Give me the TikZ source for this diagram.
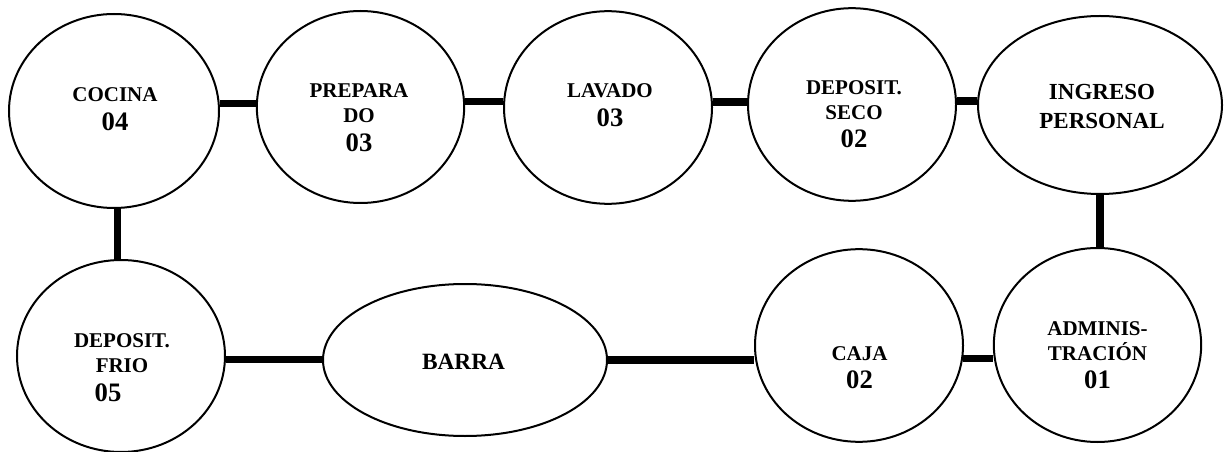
\documentclass[tikz,border=0pt]{standalone}
\usepackage{fontspec}
\setmainfont{Liberation Serif}
\usetikzlibrary{shapes.geometric}

\newcommand{\cifra}{\fontsize{20}{24}\selectfont}

\begin{document}
\begin{tikzpicture}[x=0.75pt, y=-0.75pt,
    zona/.style={ellipse, draw, line width=1.5pt, inner sep=0pt},
    rotulo/.style={align=center, inner sep=0pt,
        font=\fontsize{15.75}{18.75}\selectfont\bfseries},
    enlace/.style={line width=5.5pt}]
    \useasboundingbox (0,0) rectangle (1227,452);

    % zonas
    \node[zona, minimum width=157.5pt, minimum height=145.5pt] (cocina)    at (114,111)    {};
    \node[zona, minimum width=155.5pt, minimum height=144pt]   (preparado) at (360.5,107)  {};
    \node[zona, minimum width=156pt,   minimum height=144.5pt] (lavado)    at (608,107.5)  {};
    \node[zona, minimum width=156pt,   minimum height=144.5pt] (seco)      at (852,104.5)  {};
    \node[zona, minimum width=183pt,   minimum height=133.5pt] (ingreso)   at (1100,105)   {};
    \node[zona, minimum width=156pt,   minimum height=144pt]   (frio)      at (121,356)    {};
    \node[zona, minimum width=213pt,   minimum height=114pt]   (barra)     at (465,360)    {};
    \node[zona, minimum width=156pt,   minimum height=144.5pt] (caja)      at (859,345.5)  {};
    \node[zona, minimum width=155.5pt, minimum height=145.5pt] (admin)     at (1097.5,345) {};

    % rotulos
    \node[rotulo] (cocina-t)    at (115,109)    {COCINA\\[2.6pt]\cifra 04};
    \node[rotulo] (preparado-t) at (359,117.5)  {PREPARA\\DO\\[2.6pt]\cifra 03};
    \node[rotulo] (lavado-t)    at (610,105)    {LAVADO\\[2.6pt]\cifra 03};
    \node[rotulo] (seco-t)      at (854,114)    {DEPOSIT.\\SECO\\[2.6pt]\cifra 02};
    \node[rotulo, font=\fontsize{17.25}{21.75}\selectfont\bfseries]
                  (ingreso-t)   at (1102,106.5) {INGRESO\\PERSONAL};
    \node[rotulo] (frio-t)      at (122,367.5)  {DEPOSIT.\\FRIO\\[2.6pt]\cifra 05\kern21pt\null};
    \node[rotulo, font=\fontsize{17.5}{21}\selectfont\bfseries]
                  (barra-t)     at (463.5,362)  {BARRA};
    \node[rotulo] (caja-t)      at (859.5,367.5) {CAJA\\[2.6pt]\cifra 02};
    \node[rotulo] (admin-t)     at (1097.5,355) {ADMINIS-\\TRACIÓN\\[2.6pt]\cifra 01};

    % enlaces
    \draw[enlace] (cocina.4) -- (cocina.4 -| preparado.west);
    \draw[enlace] (preparado.3) -- (preparado.3 -| lavado.west);
    \draw[enlace] (lavado.3) -- (lavado.3 -| seco.west);
    \draw[enlace] (seco.2) -- (seco.2 -| ingreso.west);
    \draw[enlace] (ingreso.south) -- (ingreso.south |- admin.north);
    \draw[enlace] (caja.353) -- (caja.353 -| admin.west);
    \draw[enlace] (barra.east) -- (barra.east -| caja.west);
    \draw[enlace] (frio.358) -- (frio.358 -| barra.west);
    \draw[enlace] (cocina.272) -- (cocina.272 |- frio.north);
\end{tikzpicture}
\end{document}
